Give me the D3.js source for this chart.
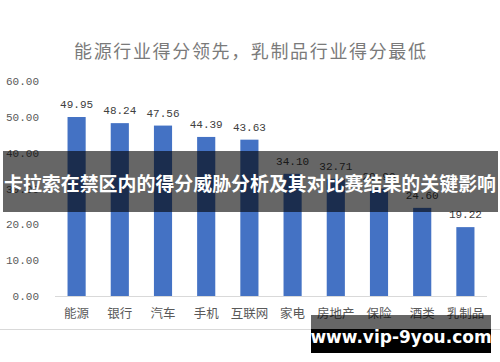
<!DOCTYPE html>
<html>
<head>
<meta charset="utf-8">
<script src="https://cdn.jsdelivr.net/npm/d3@7"></script>
<style>
  body { margin: 0; background: #fff; }
  svg { display: block; }
  .mono { font-family: "Liberation Mono", "DejaVu Sans Mono", monospace; }
</style>
</head>
<body>
<div id="chart"></div>
<script>
var categories = ["能源", "银行", "汽车", "手机", "互联网", "家电", "房地产", "保险", "酒类", "乳制品"]
var scores = [49.95, 48.24, 47.56, 44.39, 43.63, 34.10, 32.71, 29.99, 24.60, 19.22]
var yTicks = [0, 10, 20, 30, 40, 50, 60]
var title = "能源行业得分领先，乳制品行业得分最低"
var banner = "卡拉索在禁区内的得分威胁分析及其对比赛结果的关键影响"
var watermark = "www.vip-9you.com"

var width = 500,
    height = 362;

var svg = d3.select("#chart").append("svg")
    .attr("width", width)
    .attr("height", height);

var x = d3.scaleBand()
    .domain(categories)
    .range([55, 487])
    .paddingInner(0.58)
    .paddingOuter(0.29);

var y = d3.scaleLinear()
    .domain([0, 60])
    .range([296, 81]);

// title
svg.append("text")
    .attr("x", 250)
    .attr("y", 58)
    .attr("text-anchor", "middle")
    .attr("textLength", 352)
    .attr("lengthAdjust", "spacing")
    .style("font-family", "'Noto Sans CJK SC', sans-serif")
    .style("font-size", "18px")
    .style("fill", "#7a7a7a")
    .text(title);

// y tick labels
svg.selectAll(".yLabel")
    .data(yTicks)
    .enter().append("text")
      .attr("class", "yLabel mono")
      .attr("x", 39)
      .attr("y", function(d) { return y(d) + 4; })
      .attr("text-anchor", "end")
      .style("font-size", "11px")
      .style("fill", "#595959")
      .text(function(d) { return d.toFixed(2); });

// bars
svg.selectAll(".bar")
    .data(scores)
    .enter().append("rect")
      .attr("class", "bar")
      .attr("x", function(d, i) { return x(categories[i]); })
      .attr("y", function(d) { return y(d); })
      .attr("width", x.bandwidth())
      .attr("height", function(d) { return y(0) - y(d); })
      .style("fill", "#4472C4");

// baseline
svg.append("line")
    .attr("x1", 55).attr("x2", 487)
    .attr("y1", y(0) + 0.5).attr("y2", y(0) + 0.5)
    .style("stroke", "#d9d9d9")
    .style("stroke-width", 1);

// value labels
svg.selectAll(".valLabel")
    .data(scores)
    .enter().append("text")
      .attr("class", "valLabel mono")
      .attr("x", function(d, i) { return x(categories[i]) + x.bandwidth() / 2; })
      .attr("y", function(d) { return y(d) - 9; })
      .attr("text-anchor", "middle")
      .style("font-size", "11px")
      .style("fill", "#404040")
      .text(function(d) { return d.toFixed(2); });

// category labels
svg.selectAll(".catLabel")
    .data(categories)
    .enter().append("text")
      .attr("class", "catLabel")
      .attr("x", function(d) { return x(d) + x.bandwidth() / 2; })
      .attr("y", 318)
      .attr("text-anchor", "middle")
      .style("font-family", "'Noto Sans CJK SC', sans-serif")
      .style("font-size", "12.5px")
      .style("fill", "#595959")
      .text(function(d) { return d; });

// separator line under the picture
svg.append("line")
    .attr("x1", 0).attr("x2", width)
    .attr("y1", 329.5).attr("y2", 329.5)
    .style("stroke", "#d9d9d9");

// banner overlay
svg.append("rect")
    .attr("x", 3).attr("y", 151)
    .attr("width", 495).attr("height", 61)
    .style("fill", "rgba(0,0,0,0.6)");

svg.append("text")
    .attr("x", 250)
    .attr("y", 191)
    .attr("text-anchor", "middle")
    .attr("textLength", 492)
    .attr("lengthAdjust", "spacingAndGlyphs")
    .style("font-family", "'Noto Sans CJK SC', sans-serif")
    .style("font-weight", "bold")
    .style("font-size", "19px")
    .style("fill", "#fff")
    .text(banner);

// watermark
svg.append("rect")
    .attr("x", 311).attr("y", 315)
    .attr("width", 180).attr("height", 14)
    .style("fill", "rgba(0,0,0,0.6)");

svg.append("rect")
    .attr("x", 311).attr("y", 329)
    .attr("width", 180).attr("height", 24)
    .style("fill", "#000");

svg.append("text")
    .attr("x", 401)
    .attr("y", 343)
    .attr("text-anchor", "middle")
    .style("font-family", "'DejaVu Sans', sans-serif")
    .style("font-weight", "bold")
    .style("font-size", "17px")
    .style("fill", "#fff")
    .text(watermark);
</script>
</body>
</html>
